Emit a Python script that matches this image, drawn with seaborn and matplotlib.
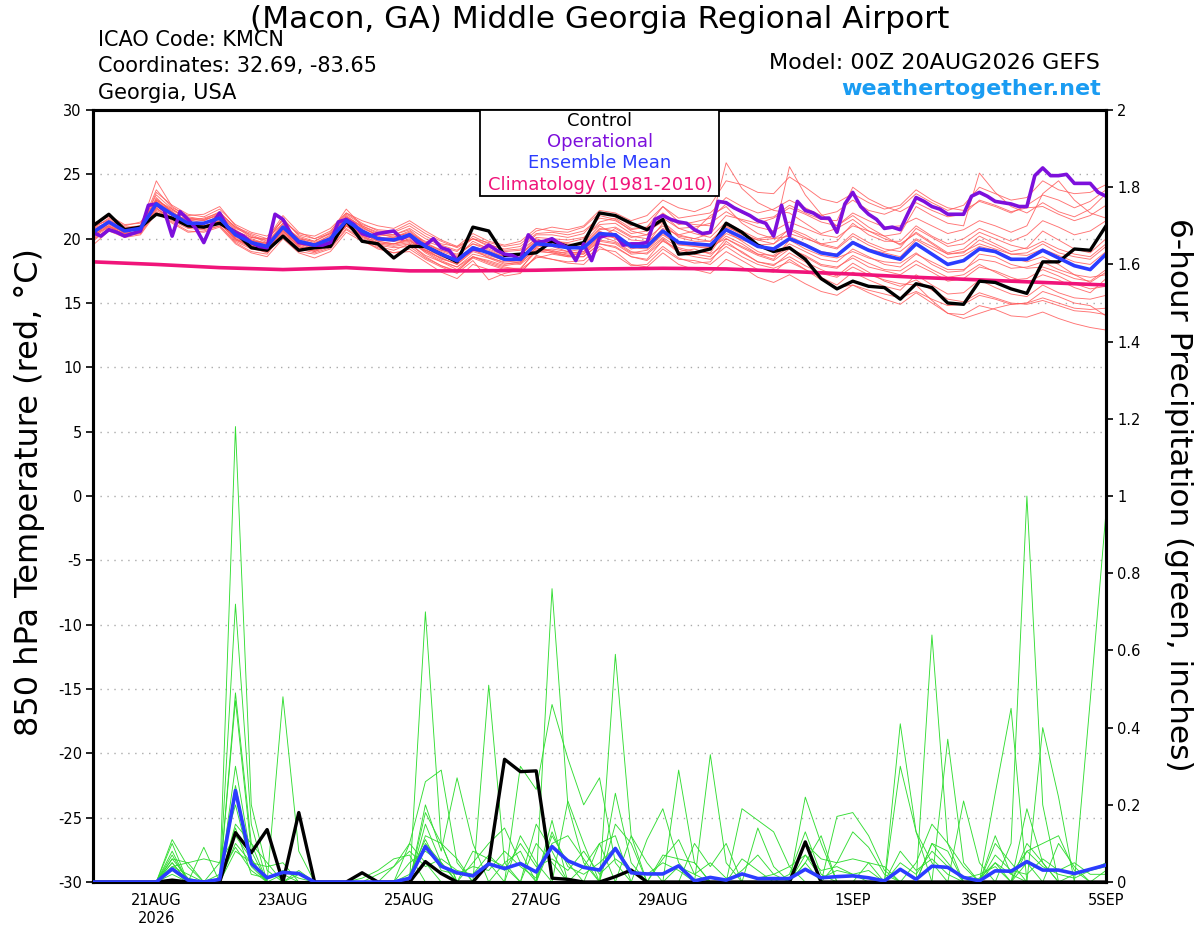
import numpy as np
import pandas as pd
import matplotlib
matplotlib.use("Agg")
import matplotlib.pyplot as plt
import matplotlib.ticker as mticker
from matplotlib.patches import Rectangle
import seaborn as sns

times6 = pd.date_range("2026-08-20 00:00", "2026-09-05 00:00", freq="6h")
times3 = pd.date_range("2026-08-20 00:00", "2026-09-05 00:00", freq="3h")
clim_days = pd.date_range("2026-08-20", "2026-09-05", freq="D")

ctl_t = [21.0, 21.9, 20.7, 20.9, 21.9, 21.6, 21.0, 20.9, 21.2, 20.5, 19.3, 19.1, 20.2, 19.1, 19.3, 19.4,
         21.4, 19.8, 19.6, 18.5, 19.4, 19.4, 18.8, 18.2, 20.9, 20.6, 18.7, 18.8, 18.9, 19.8, 19.4, 19.7,
         22.0, 21.8, 21.2, 20.7, 21.5, 18.8, 18.9, 19.2, 21.2, 20.5, 19.5, 19.0, 19.3, 18.4, 16.9, 16.1,
         16.7, 16.3, 16.2, 15.3, 16.5, 16.2, 15.0, 14.9, 16.7, 16.6, 16.1, 15.75, 18.2, 18.2, 19.2, 19.1, 21.0]

mean_t = [20.5, 21.3, 20.6, 20.8, 22.7, 21.9, 21.2, 21.2, 21.6, 20.3, 19.7, 19.4, 20.9, 19.8, 19.5, 20.0,
          21.4, 20.6, 20.0, 19.9, 20.3, 19.4, 18.8, 18.3, 19.3, 18.9, 18.4, 18.4, 19.6, 19.5, 19.3, 19.3,
          20.4, 20.3, 19.4, 19.4, 20.6, 19.7, 19.6, 19.5, 20.7, 20.1, 19.4, 19.2, 20.0, 19.5, 18.9, 18.7,
          19.7, 19.1, 18.7, 18.4, 19.6, 18.8, 18.0, 18.3, 19.2, 19.0, 18.4, 18.4, 19.1, 18.5, 17.9, 17.6, 18.8]

# operational run is 3-hourly
oper_t = [20.5, 20.2, 20.7, 20.5, 20.2, 20.4, 20.6, 22.6, 22.7, 22.2,
          20.2, 22.1, 21.5, 20.8, 19.7, 21.1, 22.0, 20.9, 20.5, 20.2,
          19.7, 19.4, 19.3, 21.9, 21.5, 20.4, 19.7, 19.6, 19.5, 19.5,
          19.7, 21.3, 21.5, 21.1, 20.4, 20.2, 20.4, 20.5, 20.6, 20.0,
          20.3, 19.7, 19.5, 20.0, 19.3, 19.1, 18.3, 18.8, 19.2, 19.1,
          19.5, 19.1, 18.8, 18.7, 18.4, 20.3, 19.7, 19.8, 20.0, 19.6,
          19.3, 18.3, 19.6, 18.3, 20.1, 20.3, 20.3, 19.5, 19.6, 19.6,
          19.7, 21.5, 21.8, 21.5, 21.3, 21.2, 20.7, 20.4, 20.5, 22.9,
          22.8, 22.4, 22.1, 21.8, 21.4, 21.2, 20.2, 22.6, 20.2, 22.9,
          22.2, 22.0, 21.6, 21.6, 20.5, 22.7, 23.6, 22.5, 21.9, 21.5,
          20.8, 20.9, 20.7, 22.0, 23.2, 22.9, 22.5, 22.3, 21.9, 21.9,
          21.9, 23.3, 23.6, 23.3, 22.9, 22.8, 22.7, 22.5, 22.5, 24.9,
          25.5, 24.9, 24.9, 25.0, 24.3, 24.3, 24.3, 23.6, 23.3]

clim_t = [18.2, 18.0, 17.75, 17.6, 17.75, 17.5, 17.5, 17.55, 17.65, 17.7, 17.65, 17.45, 17.25, 17.0,
          16.8, 16.6, 16.4]

# ensemble members, 850 hPa temperature
m01 = [20.8, 21.6, 20.9, 21.0, 23.4, 22.3, 21.5, 21.4, 21.9, 20.6, 20.1, 19.9, 21.5, 20.3, 20.0, 20.6,
       22.0, 21.2, 20.6, 20.5, 21.0, 20.2, 19.6, 19.4, 20.4, 19.8, 19.5, 19.8, 20.8, 20.6, 20.5, 20.9,
       22.0, 21.8, 21.0, 21.3, 22.5, 21.6, 21.8, 22.0, 23.2, 22.5, 22.0, 22.3, 23.0, 22.4, 21.8, 22.1,
       23.0, 22.2, 21.9, 22.4, 23.5, 22.8, 22.2, 22.6, 24.0, 23.5, 23.0, 23.2, 24.5, 23.8, 23.5, 23.6, 24.2]
m02 = [20.2, 21.0, 20.3, 20.5, 22.2, 21.5, 20.9, 20.8, 21.2, 19.9, 19.3, 18.9, 20.3, 19.2, 18.9, 19.3,
       20.8, 20.0, 19.4, 19.1, 19.6, 18.6, 17.9, 17.5, 18.5, 18.0, 17.6, 17.4, 18.6, 18.4, 18.1, 18.0,
       19.2, 19.0, 18.0, 17.8, 18.9, 18.0, 17.6, 17.3, 18.4, 17.8, 17.0, 16.6, 17.2, 16.5, 15.9, 15.6,
       16.4, 15.8, 15.3, 14.9, 15.8, 15.0, 14.2, 14.1, 14.8, 14.5, 14.0, 13.9, 14.3, 13.8, 13.4, 13.1, 12.9]
m03 = [20.0, 21.4, 20.4, 20.9, 24.5, 22.5, 21.7, 21.5, 22.1, 20.8, 20.3, 19.8, 21.6, 20.2, 19.8, 20.5,
       22.3, 21.0, 20.4, 20.1, 20.5, 19.6, 19.0, 18.6, 19.8, 19.2, 18.7, 18.5, 19.5, 19.8, 19.7, 20.0,
       21.3, 21.6, 20.8, 20.9, 22.5, 21.3, 21.1, 21.0, 25.9, 23.9, 22.8, 22.2, 22.0, 21.2, 20.4, 20.8,
       21.5, 20.6, 20.0, 19.6, 20.4, 19.6, 18.8, 19.0, 19.6, 19.2, 18.8, 18.7, 19.2, 18.7, 18.2, 18.0, 19.0]
m04 = [21.0, 21.8, 21.1, 21.2, 23.0, 22.2, 21.6, 21.5, 21.8, 20.4, 19.8, 19.7, 21.2, 19.6, 19.2, 19.6,
       21.1, 20.3, 19.6, 19.6, 19.9, 18.9, 18.2, 17.6, 18.6, 18.3, 17.9, 18.1, 19.3, 19.0, 18.7, 18.9,
       20.0, 20.8, 20.1, 20.3, 21.6, 20.8, 20.4, 20.1, 21.3, 20.6, 20.0, 20.2, 25.6, 23.4, 21.9, 21.0,
       21.8, 20.9, 20.2, 19.5, 20.5, 19.7, 18.9, 19.2, 20.2, 19.6, 19.0, 19.3, 20.6, 19.9, 19.2, 18.9, 20.0]
m05 = [19.5, 20.6, 20.1, 20.3, 22.0, 21.3, 20.6, 20.5, 20.9, 19.6, 18.9, 18.6, 20.0, 18.9, 18.5, 19.0,
       20.5, 19.8, 19.3, 18.9, 19.0, 18.2, 17.4, 16.9, 18.0, 17.6, 17.1, 17.3, 18.7, 18.4, 18.2, 18.3,
       19.4, 18.7, 17.9, 18.0, 19.2, 18.4, 18.3, 18.0, 19.0, 18.3, 17.6, 17.4, 18.4, 17.6, 17.0, 16.4,
       17.4, 16.8, 16.3, 16.0, 17.2, 16.4, 15.7, 15.8, 16.8, 16.2, 15.7, 15.5, 16.4, 15.8, 15.4, 15.3, 15.6]
m06 = [20.6, 21.1, 20.5, 20.9, 23.8, 22.4, 21.8, 21.9, 22.5, 21.0, 20.2, 19.7, 21.0, 20.1, 19.7, 20.2,
       21.6, 20.8, 20.3, 20.2, 20.4, 19.8, 19.4, 19.0, 20.2, 19.6, 19.1, 19.2, 20.3, 20.3, 20.1, 20.4,
       21.8, 21.5, 20.6, 20.3, 21.9, 20.8, 20.9, 21.2, 22.1, 21.4, 20.9, 20.6, 21.3, 20.8, 20.3, 20.1,
       21.0, 20.6, 20.2, 20.4, 22.5, 21.8, 21.2, 21.0, 25.1, 23.6, 22.5, 22.0, 22.8, 22.1, 21.7, 22.3, 23.5]
m07 = [20.3, 21.2, 20.7, 20.6, 22.5, 21.8, 21.0, 20.9, 21.4, 20.0, 19.5, 19.4, 20.6, 19.4, 19.0, 19.4,
       21.2, 20.4, 19.8, 19.6, 20.0, 19.0, 18.5, 18.0, 19.0, 18.6, 18.1, 18.0, 19.0, 19.2, 19.0, 18.8,
       19.8, 19.6, 18.8, 18.9, 20.0, 19.0, 19.2, 18.8, 19.6, 19.0, 18.2, 18.0, 18.6, 17.9, 17.3, 17.0,
       17.8, 17.2, 16.8, 16.5, 16.4, 15.2, 14.2, 13.8, 14.2, 14.6, 14.9, 15.0, 15.9, 15.5, 15.0, 14.8, 14.0]
m08 = [20.9, 21.5, 20.8, 20.7, 23.2, 22.0, 21.4, 21.6, 22.0, 20.9, 20.1, 20.0, 21.8, 20.5, 20.0, 20.4,
       21.9, 21.1, 20.7, 20.6, 21.2, 20.4, 19.8, 19.3, 20.0, 19.4, 18.8, 18.7, 20.1, 20.0, 19.9, 20.1,
       21.1, 21.2, 20.4, 20.6, 21.3, 20.3, 20.0, 20.4, 21.8, 21.5, 21.2, 21.6, 22.4, 21.9, 21.3, 21.0,
       22.0, 21.4, 20.9, 21.0, 21.6, 21.0, 20.4, 20.7, 21.4, 21.0, 20.5, 21.0, 23.5, 24.5, 23.0, 22.0, 21.6]
m09 = [20.4, 21.0, 20.2, 20.5, 22.4, 21.4, 20.8, 20.7, 21.0, 19.7, 19.0, 18.8, 20.4, 19.2, 19.1, 19.6,
       21.0, 20.1, 19.6, 19.4, 19.6, 18.7, 18.2, 17.8, 18.6, 18.2, 17.8, 17.6, 19.2, 19.1, 18.8, 19.0,
       20.2, 19.8, 19.0, 18.8, 19.8, 19.2, 18.8, 18.6, 20.0, 19.3, 18.7, 18.3, 19.2, 18.7, 18.0, 17.8,
       18.5, 17.8, 17.5, 17.2, 18.0, 17.4, 16.7, 16.9, 17.8, 17.5, 17.0, 16.6, 17.2, 16.8, 16.2, 15.8, 16.9]
m10 = [20.7, 21.3, 20.8, 21.0, 22.9, 22.1, 21.3, 21.2, 21.5, 20.4, 19.9, 19.5, 20.9, 19.9, 19.4, 19.8,
       21.5, 20.7, 20.1, 20.0, 20.2, 19.3, 18.6, 18.2, 19.4, 19.0, 18.6, 18.7, 19.9, 19.7, 19.3, 19.2,
       20.6, 20.0, 19.2, 19.5, 20.8, 20.3, 20.6, 21.8, 22.5, 21.2, 20.4, 20.0, 20.2, 19.6, 19.0, 18.8,
       19.8, 19.2, 18.9, 18.6, 19.9, 19.2, 18.5, 18.7, 19.4, 19.1, 18.5, 18.2, 18.6, 18.0, 17.2, 16.6, 17.4]
m11 = [19.8, 20.8, 20.3, 20.4, 22.1, 21.2, 20.5, 20.6, 21.0, 19.8, 19.2, 19.0, 20.2, 19.0, 18.8, 19.2,
       20.7, 19.9, 19.2, 18.9, 19.2, 18.4, 17.8, 17.3, 18.3, 16.8, 17.3, 17.6, 18.5, 18.8, 18.6, 18.6,
       19.6, 19.3, 18.6, 18.3, 19.4, 18.5, 18.1, 18.2, 19.8, 18.9, 18.2, 17.9, 18.9, 18.2, 17.6, 17.1,
       18.1, 17.4, 16.7, 16.3, 16.8, 16.0, 15.3, 15.1, 15.8, 15.4, 15.0, 14.9, 15.2, 14.8, 14.4, 14.3, 14.1]
m12 = [20.1, 20.9, 20.6, 20.7, 23.6, 22.6, 21.9, 21.7, 22.3, 21.1, 20.5, 20.2, 21.4, 20.4, 20.2, 20.8,
       22.0, 21.4, 21.0, 20.8, 21.4, 20.6, 19.9, 19.4, 20.0, 19.7, 19.4, 19.6, 20.6, 20.9, 20.7, 21.0,
       22.2, 22.0, 21.4, 21.8, 23.0, 22.4, 22.1, 22.6, 24.5, 24.2, 23.6, 23.5, 24.8, 24.0, 23.1, 22.8,
       23.5, 22.8, 22.3, 22.6, 23.8, 23.0, 22.4, 22.2, 22.9, 22.5, 22.0, 22.6, 23.4, 23.0, 22.4, 22.9, 23.8]
m13 = [21.2, 21.7, 21.0, 21.3, 22.8, 21.9, 21.5, 21.2, 21.7, 20.5, 20.0, 19.6, 20.7, 19.6, 19.3, 19.9,
       21.3, 20.5, 20.0, 20.1, 20.6, 19.6, 19.1, 18.8, 19.6, 19.3, 19.0, 19.1, 20.0, 19.6, 19.4, 19.6,
       20.8, 20.6, 19.9, 19.8, 20.5, 19.6, 19.4, 19.3, 20.4, 19.9, 19.5, 19.6, 20.4, 20.0, 19.6, 19.3,
       20.4, 19.7, 19.2, 19.0, 20.0, 19.4, 18.8, 18.9, 19.9, 19.4, 18.8, 18.9, 19.6, 18.9, 18.6, 18.4, 19.4]
m14 = [20.5, 21.2, 20.4, 20.6, 22.6, 21.6, 21.0, 21.0, 21.3, 20.1, 19.6, 19.2, 20.5, 19.7, 19.4, 19.8,
       21.1, 20.4, 19.8, 19.6, 19.8, 19.1, 18.5, 18.0, 19.1, 18.7, 18.3, 18.3, 19.4, 19.4, 19.0, 19.2,
       20.2, 20.1, 19.3, 19.2, 20.3, 19.5, 19.4, 19.2, 20.2, 19.6, 18.8, 18.7, 19.6, 19.0, 18.4, 18.2,
       19.2, 18.6, 18.0, 17.8, 18.8, 18.2, 17.6, 17.6, 18.4, 18.2, 17.7, 17.8, 18.2, 17.6, 17.2, 17.0, 17.2]
m15 = [20.0, 20.7, 20.2, 20.4, 23.1, 22.1, 21.2, 21.0, 21.1, 20.2, 19.4, 19.1, 20.8, 19.5, 19.6, 20.3,
       21.7, 20.9, 20.2, 19.8, 20.1, 19.2, 18.4, 18.1, 19.2, 18.5, 18.2, 18.2, 19.7, 19.5, 19.4, 19.7,
       21.0, 20.3, 19.5, 19.6, 21.2, 20.1, 19.8, 19.8, 21.0, 20.3, 19.9, 19.6, 20.8, 20.3, 19.6, 19.8,
       21.2, 20.3, 19.8, 19.8, 21.0, 20.2, 19.6, 20.0, 20.8, 20.3, 19.8, 20.3, 21.4, 20.9, 20.3, 20.6, 21.4]
m16 = [21.0, 21.4, 20.9, 20.8, 22.0, 21.7, 21.1, 20.8, 21.3, 20.0, 19.4, 19.1, 20.6, 19.3, 19.2, 19.5,
       21.0, 20.2, 19.5, 19.3, 19.4, 18.5, 17.9, 17.4, 18.6, 18.1, 17.7, 17.7, 19.0, 18.9, 18.6, 18.6,
       19.6, 19.4, 18.6, 18.4, 19.9, 18.9, 18.6, 18.4, 19.4, 18.6, 18.0, 17.7, 18.2, 17.6, 16.8, 16.2,
       16.4, 16.0, 15.7, 15.4, 15.9, 15.3, 14.8, 14.9, 15.6, 15.3, 14.9, 15.0, 15.4, 15.0, 14.6, 14.5, 14.6]
m17 = [20.6, 21.0, 20.5, 20.8, 22.9, 22.0, 21.3, 21.1, 21.9, 20.7, 19.9, 19.6, 21.1, 20.0, 19.6, 20.1,
       21.8, 20.9, 20.3, 20.3, 20.7, 19.7, 19.1, 18.7, 19.6, 19.1, 18.6, 18.8, 19.8, 19.9, 19.6, 19.5,
       20.7, 20.9, 20.2, 20.0, 21.0, 20.2, 20.0, 19.8, 20.9, 20.4, 19.9, 20.0, 20.7, 20.1, 19.5, 19.2,
       20.2, 19.5, 19.0, 19.3, 20.8, 20.1, 19.4, 19.6, 20.5, 20.0, 19.5, 19.2, 19.8, 19.2, 18.8, 18.6, 19.6]
m18 = [20.3, 20.9, 20.4, 20.6, 22.3, 21.6, 20.9, 21.0, 21.4, 20.0, 19.3, 19.2, 20.4, 19.5, 19.1, 19.5,
       21.0, 20.2, 19.7, 19.5, 19.7, 19.0, 18.3, 17.8, 18.8, 18.5, 18.0, 18.2, 19.1, 18.9, 18.7, 18.8,
       19.9, 19.7, 18.9, 19.1, 20.1, 19.3, 19.0, 18.9, 20.6, 19.8, 19.0, 18.6, 19.3, 18.6, 17.9, 17.7,
       18.7, 18.1, 17.6, 17.5, 18.3, 17.6, 17.0, 17.2, 18.0, 17.4, 16.8, 16.9, 17.6, 17.1, 16.5, 16.1, 16.3]
m19 = [20.8, 21.3, 20.6, 20.9, 23.0, 22.3, 21.6, 21.4, 22.0, 20.9, 20.4, 20.0, 21.2, 20.0, 19.8, 20.4,
       21.7, 21.0, 20.5, 20.3, 20.8, 20.0, 19.5, 19.1, 20.0, 19.5, 19.2, 19.4, 20.4, 20.5, 20.3, 20.6,
       21.6, 21.4, 20.7, 20.9, 22.0, 21.1, 21.3, 21.6, 22.7, 22.0, 21.5, 21.7, 22.6, 22.0, 21.5, 21.4,
       24.0, 23.1, 22.5, 22.1, 22.8, 22.2, 21.7, 21.9, 23.0, 22.6, 22.1, 22.4, 22.5, 21.9, 21.4, 21.8, 22.6]
m20 = [19.9, 20.8, 20.4, 20.5, 22.4, 21.5, 21.0, 20.9, 21.2, 19.9, 19.5, 19.3, 20.7, 19.4, 19.0, 19.6,
       21.0, 20.3, 19.9, 19.8, 19.9, 19.1, 18.7, 18.3, 19.3, 18.8, 18.3, 18.1, 19.3, 19.0, 18.9, 19.0,
       20.1, 20.2, 19.6, 19.3, 20.4, 19.6, 19.5, 19.4, 20.0, 19.4, 18.8, 18.4, 19.9, 19.2, 18.7, 18.5,
       19.0, 18.5, 18.2, 18.1, 18.9, 18.0, 17.4, 17.5, 18.8, 18.6, 18.0, 17.7, 17.8, 17.4, 16.9, 16.7, 17.6]
temp_members = [m01, m02, m03, m04, m05, m06, m07, m08, m09, m10,
                m11, m12, m13, m14, m15, m16, m17, m18, m19, m20]

# 6-hour precipitation (inches)
ctl_p = [0, 0, 0, 0, 0, .005, 0, 0, 0, .128, .076, .136, 0, .18, 0, 0,
         0, .024, 0, 0, 0, .053, .022, 0, 0, .048, .318, .286, .288, .01, .007, 0,
         0, .014, .031, 0, 0, 0, 0, 0, 0, 0, 0, 0, 0, .104, 0, 0,
         0, 0, 0, 0, 0, 0, 0, 0, 0, 0, 0, 0, 0, 0, 0, 0, 0]
mean_p = [0, 0, 0, 0, 0, .034, .005, 0, .007, .237, .048, .011, .025, .022, 0, 0,
          0, 0, 0, 0, .01, .092, .041, .024, .016, .047, .035, .048, .026, .092, .055, .038,
          .031, .087, .024, .021, .021, .042, .003, .012, .005, .021, .009, .009, .009, .033, .011, .014,
          .016, .011, .003, .033, .007, .041, .038, .012, .003, .029, .028, .053, .031, .031, .022, .033, .044]

p01 = [0, 0, 0, 0, 0, .05, 0, 0, 0, 1.18, .2, .03, 0, 0, 0, 0,
       0, 0, 0, 0, 0, .1, .05, 0, 0, 0, 0, 0, 0, .76, .2, .05,
       0, 0, 0, 0, 0, 0, 0, 0, 0, 0, 0, 0, 0, .05, 0, 0,
       0, 0, 0, 0, 0, .64, .1, 0, 0, 0, 0, .05, 0, 0, 0, 0, 0]
p02 = [0, 0, 0, 0, 0, .11, .04, 0, 0, .72, .15, 0, .02, 0, 0, 0,
       0, 0, 0, 0, 0, .7, .1, 0, 0, .05, 0, 0, 0, 0, 0, 0,
       0, .59, .12, 0, 0, 0, 0, 0, 0, 0, 0, 0, 0, 0, 0, 0,
       0, 0, 0, .41, .13, 0, 0, 0, 0, 0, .1, 1.0, .2, 0, 0, 0, 0]
p03 = [0, 0, 0, 0, 0, .08, 0, .09, 0, .49, .1, 0, .48, .08, 0, 0,
       0, 0, 0, 0, .1, .26, .29, .05, 0, .51, .05, 0, 0, .16, 0, 0,
       0, 0, 0, 0, 0, .29, .05, 0, 0, 0, 0, 0, 0, .22, .1, 0,
       0, 0, 0, 0, 0, 0, 0, .21, .05, 0, 0, 0, 0, 0, 0, .47, .96]
p04 = [0, 0, 0, 0, 0, .07, 0, 0, 0, .47, .08, 0, 0, 0, 0, 0,
       0, 0, 0, 0, 0, .2, .08, .27, .1, 0, 0, .3, .24, .46, .32, .2,
       .27, .05, 0, 0, 0, 0, 0, .33, .05, 0, 0, 0, 0, 0, 0, .17,
       .18, .12, .03, 0, 0, 0, 0, 0, 0, .23, .45, 0, 0, 0, 0, 0, 0]
p05 = [0, 0, 0, 0, 0, .04, .05, 0, 0, .3, .06, 0, 0, .03, 0, 0,
       0, 0, 0, 0, 0, 0, 0, 0, .05, .1, .14, .05, 0, 0, .21, .1,
       0, .23, .05, 0, 0, 0, 0, 0, 0, .19, .16, .13, .04, 0, 0, 0,
       0, 0, 0, .3, .13, .05, 0, 0, 0, 0, 0, 0, .4, .22, 0, 0, 0]
p06 = [0, 0, 0, 0, 0, .1, 0, 0, 0, .25, .05, .04, .05, 0, 0, 0,
       0, 0, 0, 0, 0, .15, .05, 0, 0, 0, 0, 0, .1, .05, 0, 0,
       0, 0, 0, .11, .19, .05, 0, 0, 0, 0, 0, 0, 0, .05, .12, 0,
       0, 0, 0, 0, 0, 0, .37, .05, 0, 0, 0, .19, .05, 0, 0, 0, 0]
p07 = [0, 0, 0, 0, 0, .06, .05, .06, .05, .2, .04, 0, 0, 0, 0, 0,
       0, 0, 0, .04, .1, .05, 0, 0, 0, 0, 0, .12, .05, 0, 0, 0,
       .1, 0, .12, .05, 0, 0, 0, 0, 0, 0, .14, .04, 0, 0, 0, 0,
       0, 0, 0, 0, 0, 0, 0, 0, 0, .1, .05, 0, 0, .1, .04, 0, 0]
p08 = [0, 0, 0, 0, 0, .03, 0, 0, 0, .15, .1, .05, 0, 0, 0, 0,
       0, 0, 0, 0, 0, .12, .1, .06, 0, 0, 0, 0, 0, .1, .12, .06,
       0, 0, 0, 0, 0, 0, .1, .04, .1, 0, 0, 0, 0, 0, 0, 0,
       0, .05, .04, 0, 0, .1, .08, 0, 0, .05, 0, .1, .05, 0, 0, 0, 0]
p09 = [0, 0, 0, 0, 0, .02, 0, 0, 0, .1, .05, 0, 0, 0, 0, 0,
       0, .01, .03, .06, .07, 0, 0, 0, .08, .06, .04, 0, 0, 0, 0, 0,
       0, .15, .1, 0, .06, .11, .02, 0, 0, 0, 0, 0, 0, .1, .06, .05,
       .13, .09, .02, 0, 0, .1, .05, 0, 0, 0, 0, 0, 0, 0, .02, .03, .04]
p10 = [0, 0, 0, 0, 0, .05, 0, 0, .05, .12, .06, 0, 0, 0, 0, 0,
       0, 0, 0, 0, 0, .18, .1, 0, 0, 0, 0, 0, .15, .08, 0, .04,
       .1, .12, 0, 0, 0, 0, 0, 0, 0, .06, .03, 0, .02, .13, .02, 0,
       0, 0, 0, 0, .05, .15, .1, .04, 0, .12, .02, .08, .1, .12, .03, 0, 0]
p11 = [0, 0, 0, 0, 0, 0, 0, 0, 0, .08, .05, 0, 0, 0, 0, 0,
       0, 0, 0, 0, .05, .08, .05, 0, 0, 0, .05, .08, 0, .12, .05, 0,
       0, 0, 0, 0, .07, .06, .05, 0, 0, 0, 0, 0, 0, 0, 0, .05,
       .06, .05, 0, 0, 0, 0, 0, 0, .01, .05, .02, 0, 0, 0, 0, 0, .03]
p12 = [0, 0, 0, 0, 0, .04, .02, 0, .02, .09, .03, 0, 0, .02, 0, 0,
       0, 0, .02, .04, .08, .04, .06, .03, .02, .07, .03, .1, .04, .06, .03, .08,
       .02, .06, .03, .02, .05, .03, 0, 0, 0, .03, .07, .02, 0, .07, .03, .04,
       .02, 0, 0, .08, .03, .06, .02, 0, 0, .07, .03, .02, .06, .03, .05, .02, .02]
p13 = [0, 0, 0, 0, 0, .06, .01, 0, 0, .14, .02, .01, .03, .01, 0, 0,
       0, 0, 0, 0, .02, .11, .03, .02, .04, .03, .08, .04, .01, .13, .04, .02,
       .05, .09, .03, 0, 0, .04, .02, .05, .01, .02, .01, .02, .04, .07, .01, .03,
       .02, .03, 0, .05, .02, .08, .04, .01, .02, .04, 0, .08, .04, .02, .01, .03, .05]
precip_members = [p01, p02, p03, p04, p05, p06, p07, p08, p09, p10, p11, p12, p13]

tick_days = pd.to_datetime(["2026-08-21", "2026-08-23", "2026-08-25", "2026-08-27",
                            "2026-08-29", "2026-09-01", "2026-09-03", "2026-09-05"])
tick_labels = ["21AUG\n2026", "23AUG", "25AUG", "27AUG", "29AUG", "1SEP", "3SEP", "5SEP"]

RED = "#ff5a5a"
GREEN = "#33dd33"
PURPLE = "#7d0fdc"
BLUE = "#2b3cff"
PINK = "#f0147a"
SKY = "#1a9cf2"

sns.set_style("white")
plt.rcParams["font.family"] = ["DejaVu Sans"]
plt.rcParams["axes.unicode_minus"] = False
plt.rcParams["text.color"] = "black"
plt.rcParams["axes.labelcolor"] = "black"
plt.rcParams["xtick.color"] = "black"
plt.rcParams["ytick.color"] = "black"

fig = plt.figure(figsize=(12, 9.27), dpi=100)
ax = fig.add_axes([0.0775, 0.0485, 0.8442, 0.8328])
ax2 = ax.twinx()


def long_form(series_list, times, col):
    return pd.DataFrame({
        "time": np.tile(times.values, len(series_list)),
        col: np.concatenate([np.asarray(s, dtype=float) for s in series_list]),
        "member": np.repeat(np.arange(len(series_list)), len(times)),
    })


# temperature panel (left axis)
df_t = long_form(temp_members, times6, "temp")
sns.lineplot(data=df_t, x="time", y="temp", units="member", estimator=None,
             color=RED, lw=0.65, alpha=0.85, ax=ax, zorder=2)
sns.lineplot(x=clim_days, y=clim_t, color=PINK, lw=2.6, ax=ax, zorder=3)
sns.lineplot(x=times6, y=ctl_t, color="black", lw=2.4, ax=ax, zorder=4)
sns.lineplot(x=times3, y=oper_t, color=PURPLE, lw=2.6, ax=ax, zorder=5)
sns.lineplot(x=times6, y=mean_t, color=BLUE, lw=2.6, ax=ax, zorder=6)

# precipitation panel (right axis)
df_p = long_form(precip_members, times6, "precip")
sns.lineplot(data=df_p, x="time", y="precip", units="member", estimator=None,
             color=GREEN, lw=0.65, ax=ax2, zorder=2)
sns.lineplot(x=times6, y=ctl_p, color="black", lw=2.4, ax=ax2, zorder=4)
sns.lineplot(x=times6, y=mean_p, color=BLUE, lw=2.6, ax=ax2, zorder=5)

ax.set_xlim(times6[0], times6[-1])
ax.set_ylim(-30, 30)
ax.set_yticks(np.arange(-30, 31, 5))
ax2.set_ylim(0, 2)
ax2.set_yticks(np.arange(0, 2.01, 0.2))
ax2.yaxis.set_major_formatter(mticker.FuncFormatter(lambda v, p: f"{v:g}"))
ax.set_xticks(tick_days)
ax.set_xticklabels(tick_labels)

ax.yaxis.grid(True, linestyle=(0, (1, 4)), color="#aaaaaa", lw=1)
ax.xaxis.grid(False)
ax2.grid(False)

for a in (ax, ax2):
    a.set_xlabel("")
    a.set_ylabel("")
    for sp in a.spines.values():
        sp.set_linewidth(2.2)
        sp.set_color("black")
ax.tick_params(axis="both", direction="out", length=5, width=1.2, labelsize=10.5, pad=3,
               colors="black")
ax2.tick_params(axis="y", direction="out", length=5, width=1.2, labelsize=10.5, pad=3,
                colors="black")

# legend box
ax2.add_patch(Rectangle((0.382, 0.889), 0.236, 0.111, transform=ax2.transAxes,
                        facecolor="white", edgecolor="black", lw=1.3, zorder=10, clip_on=False))
for ypos, label, col in [(0.9857, "Control", "black"), (0.9585, "Operational", PURPLE),
                         (0.9313, "Ensemble Mean", BLUE), (0.9028, "Climatology (1981-2010)", PINK)]:
    ax2.text(0.5005, ypos, label, color=col, fontsize=13, ha="center", va="center",
             transform=ax2.transAxes, zorder=11)

# axis titles and header text
fig.text(0.025, 0.469, "850 hPa Temperature (red, °C)", rotation=90, fontsize=23,
         ha="center", va="center", color="black")
fig.text(0.982, 0.466, "6-hour Precipitation (green, inches)", rotation=270, fontsize=22.5,
         ha="center", va="center", color="black")
fig.text(0.5, 1 - 19 / 927, "(Macon, GA) Middle Georgia Regional Airport", fontsize=22.5,
         ha="center", va="center", color="black")
for ypix, txt in [(40, "ICAO Code: KMCN"), (66, "Coordinates: 32.69, -83.65"), (93, "Georgia, USA")]:
    fig.text(98 / 1200, 1 - ypix / 927, txt, fontsize=15, ha="left", va="center", color="black")
fig.text(1100 / 1200, 1 - 63 / 927, "Model: 00Z 20AUG2026 GEFS", fontsize=16, ha="right",
         va="center", color="black")
fig.text(1101 / 1200, 1 - 89 / 927, "weathertogether.net", fontsize=16, fontweight="bold",
         color=SKY, ha="right", va="center")

fig.savefig("out.png", dpi=100)
